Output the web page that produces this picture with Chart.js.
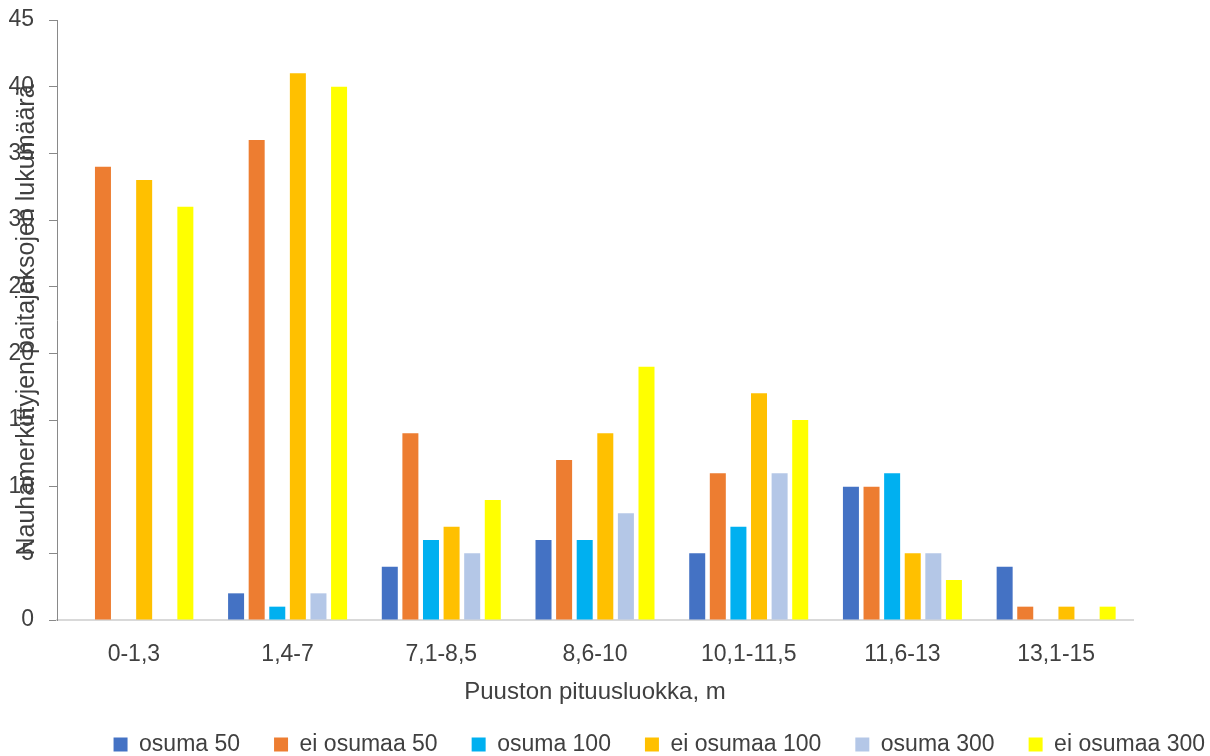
<!DOCTYPE html>
<html lang="fi">
<head>
<meta charset="utf-8">
<title>Nauhamerkittyjen paitajaksojen lukumäärä</title>
<script src="https://cdn.jsdelivr.net/npm/chart.js@4.4.1/dist/chart.umd.min.js"></script>
<style>
  html, body { margin: 0; padding: 0; background: #ffffff; }
  #wrap { width: 1210px; height: 756px; }
</style>
</head>
<body>
<div id="wrap"><canvas id="chart" width="1210" height="756"></canvas></div>
<script>
// Height classes of the stand (x axis)
const categories = ['0-1,3', '1,4-7', '7,1-8,5', '8,6-10', '10,1-11,5', '11,6-13', '13,1-15'];

// Counts per series
const osuma50      = [0, 2, 4, 6, 5, 10, 4];
const eiOsumaa50   = [34, 36, 14, 12, 11, 10, 1];
const osuma100     = [0, 1, 6, 6, 7, 11, 0];
const eiOsumaa100  = [33, 41, 7, 14, 17, 5, 1];
const osuma300     = [0, 2, 5, 8, 11, 5, 0];
const eiOsumaa300  = [31, 40, 9, 19, 15, 3, 1];

const seriesNames  = ['osuma 50', 'ei osumaa 50', 'osuma 100', 'ei osumaa 100', 'osuma 300', 'ei osumaa 300'];
const seriesValues = [osuma50, eiOsumaa50, osuma100, eiOsumaa100, osuma300, eiOsumaa300];
const seriesColors = ['#4472C4', '#ED7D31', '#00B0F0', '#FFC000', '#B4C7E7', '#FFFF00'];

// Value axis range
const yMin = 0;
const yMax = 45;
const yStep = 5;

const textColor = '#404040';
Chart.defaults.font.family = "'Liberation Sans', Arial, sans-serif";
Chart.defaults.font.size = 23;
Chart.defaults.color = textColor;

const datasets = seriesNames.map((name, i) => ({
  label: name,
  data: seriesValues[i],
  backgroundColor: seriesColors[i],
  borderWidth: 0,
  categoryPercentage: 0.804,
  barPercentage: 0.777
}));

new Chart(document.getElementById('chart'), {
  type: 'bar',
  data: { labels: categories, datasets },
  options: {
    responsive: false,
    animation: false,
    layout: { padding: { top: 20, right: -29, bottom: -10, left: 0 } },
    plugins: {
      tooltip: { enabled: false },
      legend: {
        position: 'bottom',
        align: 'end',
        labels: {
          boxWidth: 14,
          boxHeight: 14,
          padding: 34,
          color: textColor,
          font: { size: 23 }
        }
      }
    },
    scales: {
      x: {
        grid: { display: false, drawTicks: false },
        border: { display: true, color: '#D9D9D9', width: 2 },
        ticks: { padding: 21, color: textColor, maxRotation: 0, autoSkip: false },
        title: {
          display: true,
          text: 'Puuston pituusluokka, m',
          color: textColor,
          font: { size: 24 },
          padding: { top: 0, bottom: -8 }
        },
        afterFit: (scale) => { scale.height = 79; }
      },
      y: {
        position: 'left',
        min: yMin,
        max: yMax,
        ticks: { stepSize: yStep, padding: 15, color: textColor },
        grid: { display: true, drawOnChartArea: false, drawTicks: true, tickLength: 8, color: '#898989' },
        border: { display: true, color: '#898989', width: 1 },
        title: {
          display: true,
          text: 'Nauhamerkittyjen paitajaksojen lukumäärä',
          color: textColor,
          font: { size: 25 },
          padding: { top: 12, bottom: 0 }
        },
        afterFit: (scale) => {
          scale.width = 57;
          scale.paddingTop = 0;
          scale.paddingBottom = 0;
        }
      },
      yRight: {
        position: 'right',
        display: true,
        ticks: { display: false },
        grid: { display: false },
        border: { display: false },
        afterFit: (scale) => { scale.width = 106; }
      }
    }
  }
});
</script>
</body>
</html>
